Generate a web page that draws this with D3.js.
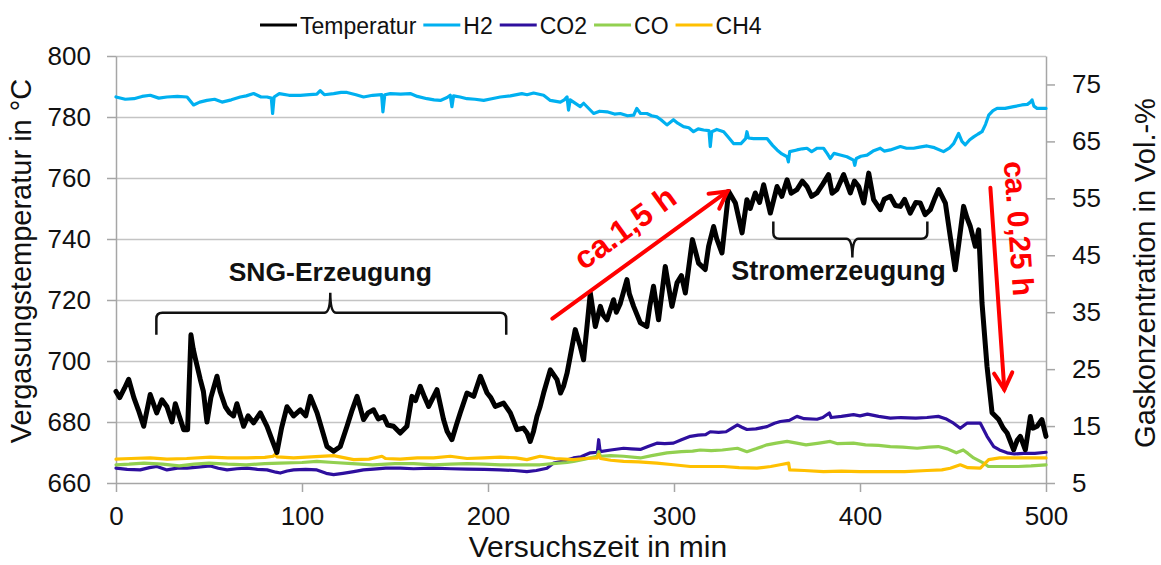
<!DOCTYPE html>
<html>
<head>
<meta charset="utf-8">
<script src="https://cdn.jsdelivr.net/npm/d3@7"></script>
<style>
  body { margin: 0; background: #fff; }
  svg text { font-family: "Liberation Sans", Arial, sans-serif; fill: #111; }
</style>
</head>
<body>
<svg id="chart" width="1161" height="565"></svg>
<script>
// ---- Daten, [Zeit in min, Wert]
const temperatur = [
  [0,690],[2,688],[4.5,691],[6.8,694],[9.6,688],[12,684],[14.9,678.6],[18.4,689],[21.9,683],[24.7,687.3],
  [27.4,685],[30.1,680],[31.9,686],[34,682],[36.4,677.5],[38.5,677.5],[40.3,708.6],[41.5,704],[42.6,701],[45.3,694],
  [47,690],[48.9,680],[51,688],[54.3,695],[56,690],[58.8,685],[61,683],[63.2,682],[65,686],[68.6,678.6],
  [71,682],[74,679.7],[77.6,683],[81.2,678.6],[84,674],[86.5,670],[89,678],[91.9,685],[95.5,682],[99.1,684],
  [102,682],[104.5,688.4],[108.1,683],[111,677],[113.4,672],[117,670.4],[120.6,672],[124.2,678.6],[127,684],[129.6,688.4],
  [133.1,680.8],[135.5,683],[138.5,684],[141,681],[143.9,681.8],[146,679],[149.2,678.6],[152.8,676.4],[156.4,678.6],[159.1,688.4],
  [161,687],[163.6,691.7],[166,688],[168.1,685.1],[172.6,690.6],[176.1,680.8],[178,677],[180.6,674.2],[183,679],[185.1,683],
  [188.7,689.5],[192.3,688.4],[195.9,695],[199.5,689.5],[201.5,688],[203.9,685.1],[208.4,686.2],[212,683],[215.6,677.5],[219,678],
  [221,676.4],[222.7,673.6],[224.5,677],[226.3,681.8],[228,685],[229.9,689.5],[233.5,697.1],[237.1,693.9],[239,689.5],[240.6,691.7],
  [242.5,696],[244.2,701.5],[246.9,710.3],[249.6,704.8],[251.4,700.4],[253,710],[255,722.3],[257.7,711.3],[260.4,717.9],[262,715],
  [264,713.5],[267.5,720.1],[269,716],[271.1,718.8],[274.7,726.7],[276,722],[278.3,717.9],[281.9,712.5],[285.4,711.3],[287,718],
  [289,724.5],[291.7,713.5],[295.3,731],[298.9,717.9],[301.6,725.6],[304,728],[306.1,722.3],[309.9,739.8],[313.2,732.1],[316.8,730],
  [318.6,737.6],[321.3,744.1],[323,740],[325.8,735.4],[329.4,755.6],[333,751.8],[336.6,742],[339.2,752.9],[341,750],[343.7,755.1],
  [346,752],[348.2,757.8],[351.8,748.5],[355.4,757.2],[358,754],[360.8,759.4],[363,755],[366.1,756.2],[369,759],[371.5,757.2],
  [374,754],[376.9,755.1],[380,758],[383.1,761.1],[385,755],[387.6,756.2],[391.2,761.1],[394.8,755.1],[397,759],[399.3,757.2],
  [402,751.8],[404.7,761.6],[407.3,752.9],[410.9,749.6],[413,753],[416.3,754],[419,751],[421.7,750.7],[424,753],[427,748.5],
  [430,752],[432.4,751.8],[435,748],[437.8,749.6],[440,753],[442.3,756.2],[445.9,751.8],[448.5,740.9],[451.2,729.9],[453,738],
  [455.7,750.7],[457.5,747],[459.3,744.1],[462,737.6],[463.8,743],[465.6,719],[468.3,698.2],[471,683],[474.6,680.8],[477,678],
  [479.1,676.4],[482.6,670.9],[484.5,674],[486.2,675.3],[488.9,670.9],[491.6,681.8],[493,678],[495.2,678.6],[497.8,680.8],[500,675.3]
];

const h2 = [
  [0,72.8],[5,72.4],[9.6,72.5],[14,72.9],[18.4,73.1],[23,72.6],[27.4,72.8],[33,72.9],[38.2,72.8],[41.7,71.4],
  [45,71.9],[48.9,72.2],[53,72.4],[57,71.9],[62,72.3],[66.8,72.8],[70,73],[74,73.4],[78,72.8],[81.2,72.8],
  [83.5,72.6],[84.2,69.9],[85,72.8],[87.8,73.4],[93,73.1],[99.1,73.1],[104,73.2],[108,73.3],[109.8,73.9],[112,73.2],
  [117,73.4],[121,73.6],[124.2,73.6],[129,73.2],[133.1,72.8],[138,73.1],[142.8,73.2],[143.5,70.2],[144.5,73.2],[147.5,73.4],
  [153,73.3],[158.2,73.4],[162,72.9],[167.2,72.5],[171,72.3],[174.4,72.2],[178,72.7],[179.7,73.1],[180.6,71.1],[181.5,73],
  [185,72.8],[188.7,72.5],[193,72.4],[197.7,72.2],[202,72.5],[206.6,72.8],[212,73],[218.2,73.4],[221,73.2],[224.5,73.5],
  [229.9,73.1],[233.5,72.2],[238.9,71.9],[241,72.3],[242.5,72.8],[243.3,70.5],[244.2,72.3],[246,71.9],[249.6,71.1],[251.4,71.7],
  [256.8,69.9],[260,70.3],[264,70.2],[268,69.8],[271.1,69.9],[275,69.5],[278.3,69.6],[280,70.8],[282,69.9],[285.4,69.9],
  [288,69.5],[290.8,69.3],[293,68.8],[296.2,67.9],[299.7,68.8],[302,68.2],[305.1,67.6],[308,67.4],[310.5,66.7],[313,67.2],
  [315.9,67],[318.8,66.9],[319.5,64.1],[320.3,66.7],[323,67.1],[326.7,66.7],[329,65.8],[332.1,64.6],[336,64.6],[338.5,65.5],
  [339.2,66.7],[340,65.6],[342.8,65.5],[346,65.5],[350,65.5],[353,64.3],[355.4,63.5],[358,62.8],[360.8,62.3],[361.5,61.4],
  [362.2,63.2],[366.1,63.5],[369,63.7],[371.5,63.8],[374,63.2],[377,63.8],[380.4,63.8],[382.5,62.8],[384,62],[386,62.9],
  [389.4,62.6],[393,62.3],[396.5,61.7],[397.2,60.8],[398,62],[400.5,62.4],[403.8,62.6],[407,63.3],[410.9,63.8],[413,63.3],
  [416.3,63.5],[421.7,64.1],[425,63.8],[428.8,63.8],[432,64],[436,64.2],[440,63.9],[444.9,63.2],[448,63.8],[450.3,64.6],
  [453,66.4],[454.8,65],[456.6,64.4],[459,65.3],[461.1,65.8],[463.5,66.3],[465.6,66.7],[467.5,68],[469.2,69.6],[471.5,70.4],
  [473.7,70.8],[478,70.8],[482.6,71.1],[487,71.4],[490,71.5],[491.6,71.9],[492.5,72.3],[493.5,71.2],[495.2,70.8],[500,70.8]
];

const co2 = [
  [0,7.6],[6,7.4],[13,7.3],[18,7.7],[22,7.9],[27.4,7.3],[33,7.6],[38.2,7.6],[44,7.8],[50.7,8.0],
  [55,7.6],[59.7,7.3],[65,7.5],[70.4,7.6],[76,7.4],[81.2,7.3],[86,6.9],[88.3,6.75],[92,7.1],[95.5,7.3],
  [102,7.4],[108,7.3],[113,6.7],[117,6.46],[122,6.7],[127.8,7.0],[133,7.3],[138.5,7.45],[145,7.6],[152.8,7.6],
  [160,7.5],[170.7,7.6],[180,7.5],[188.7,7.45],[198,7.4],[206.6,7.3],[214,7.2],[220.9,7.0],[226,7.2],[231.7,7.6],
  [235.3,8.5],[240,8.8],[246,9.4],[250,9.6],[255,10.3],[258.8,10.4],[259.5,12.6],[260.3,10.5],[266,10.8],[272.9,11.1],
  [277,11.0],[281.9,10.9],[286,11.4],[290.8,12.0],[295,11.9],[299.7,12.0],[304,12.6],[308.8,13.2],[313,13.4],[317,13.5],
  [319.5,14.0],[324,13.9],[328,14.0],[331,14.6],[334.1,15.2],[336.5,14.8],[339.2,14.4],[344,14.5],[350,14.9],[354,15.5],
  [357.2,15.8],[362,16.0],[366.1,16.7],[370,16.3],[376.9,16.2],[380,16.5],[383.5,17.3],[384.5,16.5],[390,16.7],[396.5,17.0],
  [400,16.8],[404,17.1],[410,16.7],[416.3,16.4],[422,16.5],[430,16.4],[436,16.5],[442.1,16.7],[446,16.3],[450.3,15.5],
  [453.9,14.6],[457.5,15.5],[461,15.5],[464.7,15.5],[468.3,13.2],[471.9,11.4],[475,10.8],[479.1,10.3],[483,10.1],[488,10.2],
  [494,10.2],[500,10.4]
];

const co = [
  [0,8.2],[7,8.3],[15,8.5],[25,8.3],[34,8.0],[42,8.3],[50,8.5],[60,8.3],[70,8.2],[80,8.4],
  [88,8.5],[100,8.6],[108,8.8],[117,8.6],[127,8.4],[138,8.2],[150,8.4],[160,8.4],[170.7,8.2],[180,8.3],
  [188.7,8.4],[198,8.3],[206.6,8.2],[215,8.2],[222,8.2],[228,8.2],[235,8.4],[242.5,8.6],[246,8.8],[252,9.2],
  [258.6,9.7],[259.5,10.5],[260.5,9.7],[266,9.8],[272.9,9.7],[281.9,9.4],[288,9.8],[296.2,10.3],[304,10.5],[310,10.6],
  [314.1,10.8],[320,10.7],[326,10.8],[334.1,11.1],[339.2,10.5],[344,11.0],[350,11.7],[355,12.0],[360.8,12.3],[366,12.0],
  [371,11.7],[378,12.0],[384,12.3],[388,11.9],[396.5,12.0],[403,11.7],[410,11.6],[416.3,11.4],[423,11.3],[430.7,11.1],
  [437,11.3],[442.1,11.4],[447,11.0],[451.8,10.3],[455.5,10.8],[458,10.2],[461.1,9.4],[466.5,8.5],[469,7.9],[475,7.9],
  [485,7.9],[492,8.0],[500,8.2]
];

const ch4 = [
  [0,9.2],[8,9.3],[18.4,9.4],[27.4,9.2],[38,9.3],[50.7,9.55],[60,9.4],[70.4,9.4],[80,9.5],[84.5,9.7],
  [85.5,10.0],[86.5,9.6],[95.5,9.4],[105,9.6],[117,9.8],[127.8,9.1],[136,9.2],[143,9.7],[145,9.3],[152.8,9.2],
  [162,9.4],[170.7,9.4],[179.7,9.7],[188.7,9.3],[198,9.4],[206.6,9.55],[215,9.4],[220.9,9.1],[228,9.7],[236,9.3],
  [246,9.1],[252,9.3],[258.6,9.4],[259.5,10.0],[260.5,9.3],[266,9.0],[272.9,8.8],[281,8.7],[290.8,8.5],[299.7,8.2],
  [308.8,7.9],[318,7.9],[326.7,7.9],[335,7.7],[344.6,7.6],[352,7.9],[357,8.2],[361.6,8.5],[362.2,7.3],[370,7.2],
  [380.4,7.0],[390,7.1],[400,7.0],[412,7.0],[424,7.0],[436,7.2],[444,7.3],[448.5,7.6],[453.9,8.2],[458,7.7],
  [464.7,7.6],[469.2,9.1],[475,9.4],[485,9.4],[500,9.4]
];

const xTicks = [0, 100, 200, 300, 400, 500];
const leftTicks = [660, 680, 700, 720, 740, 760, 780, 800];
const rightTicks = [5, 15, 25, 35, 45, 55, 65, 75];

const serien = [
  { name: 'Temperatur', color: '#000000', axis: 'left',  data: temperatur, width: 5 },
  { name: 'H2',         color: '#00B0F0', axis: 'right', data: h2,         width: 3.2 },
  { name: 'CO2',        color: '#2E0F9E', axis: 'right', data: co2,        width: 3.2 },
  { name: 'CO',         color: '#92D050', axis: 'right', data: co,         width: 3.2 },
  { name: 'CH4',        color: '#FFC000', axis: 'right', data: ch4,        width: 3.2 }
];

// ---- Aufbau
const margin = { left: 116, right: 115, top: 56, bottom: 82 };
const svg = d3.select('#chart');
const W = +svg.attr('width'), H = +svg.attr('height');
const iw = W - margin.left - margin.right;
const ih = H - margin.top - margin.bottom;
const g = svg.append('g').attr('transform', `translate(${margin.left},${margin.top})`);

const x = d3.scaleLinear().domain([0, 500]).range([0, iw]);
const yL = d3.scaleLinear().domain([660, 800]).range([ih, 0]);
const yR = d3.scaleLinear().domain([5, 80]).range([ih, 0]);

// Gitternetz
g.append('g')
  .call(d3.axisLeft(yL).tickValues(leftTicks.slice(1)).tickSize(-iw).tickFormat(''))
  .call(a => a.select('.domain').remove())
  .selectAll('line').attr('stroke', '#C4C4C4').attr('stroke-width', 1.4);

function styleAxis(a, fs) {
  a.selectAll('path, line').attr('stroke', '#A6A6A6').attr('stroke-width', 1.5);
  a.selectAll('text').attr('font-size', fs).attr('fill', '#111');
}

g.append('g').attr('transform', `translate(0,${ih})`)
  .call(d3.axisBottom(x).tickValues(xTicks).tickSize(9).tickSizeOuter(0).tickPadding(14.5))
  .call(a => styleAxis(a, 26));

g.append('g')
  .call(d3.axisLeft(yL).tickValues(leftTicks).tickSize(9).tickSizeOuter(0).tickPadding(16))
  .call(a => styleAxis(a, 26));

g.append('g').attr('transform', `translate(${iw},0)`)
  .call(d3.axisRight(yR).tickValues(rightTicks).tickSize(9).tickSizeOuter(0).tickPadding(17))
  .call(a => styleAxis(a, 26));

// Achsentitel
svg.append('text').attr('x', 598).attr('y', 557).attr('text-anchor', 'middle')
  .attr('font-size', 30).text('Versuchszeit in min');
svg.append('text').attr('transform', 'translate(31,261) rotate(-90)').attr('text-anchor', 'middle')
  .attr('font-size', 29).text('Vergasungstemperatur in °C');
svg.append('text').attr('transform', 'translate(1155,273) rotate(-90)').attr('text-anchor', 'middle')
  .attr('font-size', 29).text('Gaskonzentration in Vol.-%');

// Linien (Gase zuerst, Temperatur oben)
const order = [1, 2, 3, 4, 0];
order.forEach(i => {
  const s = serien[i];
  const ys = s.axis === 'left' ? yL : yR;
  const line = d3.line().x(d => x(d[0])).y(d => ys(d[1]));
  g.append('path').datum(s.data)
    .attr('fill', 'none')
    .attr('stroke', s.color)
    .attr('stroke-width', s.width)
    .attr('stroke-linejoin', 'round')
    .attr('stroke-linecap', 'round')
    .attr('d', line);
});

// Legende
const legend = svg.append('g').attr('transform', 'translate(260,25)');
let lx = 0;
serien.forEach(s => {
  legend.append('line').attr('x1', lx).attr('x2', lx + 37).attr('y1', 0).attr('y2', 0)
    .attr('stroke', s.color).attr('stroke-width', 3.2);
  const t = legend.append('text').attr('x', lx + 40).attr('y', 8.5).attr('font-size', 23).text(s.name);
  lx += 40 + t.node().getComputedTextLength() + 7;
});

// ---- Anmerkungen
function brace(x1, x2, xc, yEnd, yMid, yPeak) {
  const r = 6, s = Math.sign(yEnd - yMid);
  return `M${x1},${yEnd} L${x1},${yMid + s * r} Q${x1},${yMid} ${x1 + r},${yMid} ` +
    `L${xc - r},${yMid} Q${xc},${yMid} ${xc},${yPeak} Q${xc},${yMid} ${xc + r},${yMid} ` +
    `L${x2 - r},${yMid} Q${x2},${yMid} ${x2},${yMid + s * r} L${x2},${yEnd}`;
}
g.append('path')
  .attr('d', brace(x(21.7), x(209.8), x(115.2), yL(708.6), yL(715.8), yL(722.4)))
  .attr('fill', 'none').attr('stroke', '#111').attr('stroke-width', 2.5);
g.append('text').attr('x', x(115.2)).attr('y', yL(726.1)).attr('text-anchor', 'middle')
  .attr('font-size', 26.5).attr('font-weight', 'bold').text('SNG-Erzeugung');

g.append('path')
  .attr('d', brace(x(353.4), x(436.2), x(395.9), yL(745.7), yL(740.1), yL(733.9)))
  .attr('fill', 'none').attr('stroke', '#111').attr('stroke-width', 2.5);
g.append('text').attr('x', x(388.4)).attr('y', yL(726.7)).attr('text-anchor', 'middle')
  .attr('font-size', 27).attr('font-weight', 'bold').text('Stromerzeugung');

function arrow(t0, v0, t1, v1) {
  const x0 = x(t0), y0 = yL(v0), x1 = x(t1), y1 = yL(v1);
  const a = Math.atan2(y1 - y0, x1 - x0), L = 19, w = 0.5;
  const grp = g.append('g').attr('stroke', '#FF0000').attr('stroke-width', 4)
    .attr('stroke-linecap', 'round').attr('fill', 'none');
  grp.append('line').attr('x1', x0).attr('y1', y0).attr('x2', x1).attr('y2', y1);
  grp.append('path').attr('d',
    `M${x1 - L * Math.cos(a - w)},${y1 - L * Math.sin(a - w)} L${x1},${y1} ` +
    `L${x1 - L * Math.cos(a + w)},${y1 - L * Math.sin(a + w)}`)
    .attr('stroke-linejoin', 'miter');
}
arrow(234.6, 713.9, 328.7, 755.6);
arrow(470.1, 756.8, 477.6, 690.6);

g.append('text')
  .attr('transform', `translate(${x(277)},${yL(740.8)}) rotate(-36)`)
  .attr('text-anchor', 'middle').attr('font-size', 32).attr('font-weight', 'bold')
  .style('fill', '#FF0000').text('ca.1,5 h');
g.append('text')
  .attr('transform', `translate(${x(485.5)},${yL(743.5)}) rotate(86)`)
  .attr('text-anchor', 'middle').attr('dominant-baseline', 'central')
  .attr('font-size', 30).attr('font-weight', 'bold')
  .style('fill', '#FF0000').text('ca. 0,25 h');
</script>
</body>
</html>
